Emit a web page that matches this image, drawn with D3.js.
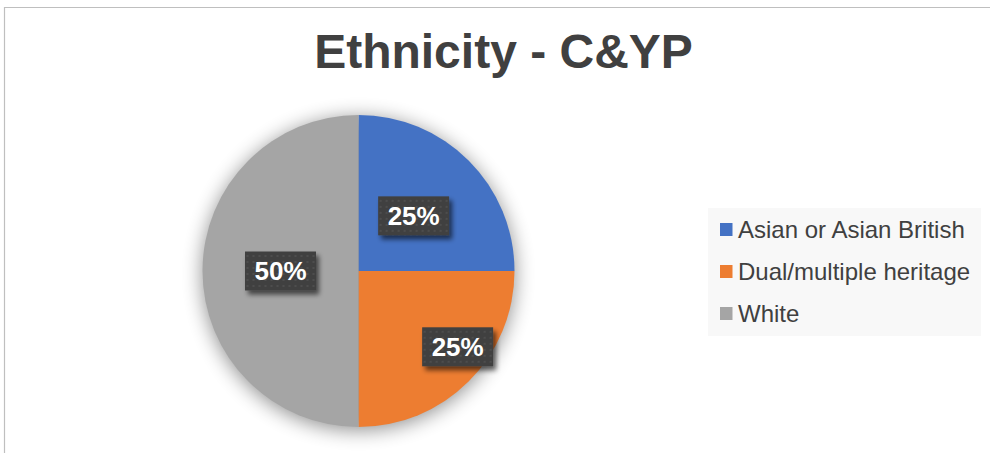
<!DOCTYPE html>
<html>
<head>
<meta charset="utf-8">
<script src="https://cdn.jsdelivr.net/npm/d3@7"></script>
<style>
  html, body { margin: 0; padding: 0; background: #fff; }
  svg { display: block; font-family: Arial, "Liberation Sans", sans-serif; }
</style>
</head>
<body>
<div id="chart"></div>
<script>
// chart data
var categories = ['Asian or Asian British', 'Dual/multiple heritage', 'White'];
var shares = [0.25, 0.25, 0.50];
var colors = ['#4472C4', '#ED7D31', '#A5A5A5'];
var title = 'Ethnicity - C&YP';

// label placement (fraction of radius, angle in degrees from 12 o'clock)
var labelRadius = [0.5, 0.8, 0.5];
var labelAngle = [45, 127.4, 270];

var width = 990, height = 453;
var cx = 358.5, cy = 271, radius = 156;

var svg = d3.select('#chart').append('svg')
  .attr('width', width)
  .attr('height', height);

var defs = svg.append('defs');

var pieShadow = defs.append('filter').attr('id', 'pieShadow')
  .attr('x', '-30%').attr('y', '-30%').attr('width', '160%').attr('height', '160%');
pieShadow.append('feGaussianBlur').attr('in', 'SourceAlpha').attr('stdDeviation', 10);
pieShadow.append('feOffset').attr('dy', 3).attr('result', 'blur');
pieShadow.append('feComponentTransfer').append('feFuncA').attr('type', 'linear').attr('slope', 0.45);

var boxShadow = defs.append('filter').attr('id', 'boxShadow')
  .attr('x', '-30%').attr('y', '-30%').attr('width', '170%').attr('height', '180%');
boxShadow.append('feGaussianBlur').attr('in', 'SourceAlpha').attr('stdDeviation', 2.5);
boxShadow.append('feOffset').attr('dx', 3).attr('dy', 4).attr('result', 'off');
boxShadow.append('feComponentTransfer').attr('result', 'shadow')
  .append('feFuncA').attr('type', 'linear').attr('slope', 0.6);
var merge = boxShadow.append('feMerge');
merge.append('feMergeNode').attr('in', 'shadow');
merge.append('feMergeNode').attr('in', 'SourceGraphic');

var dots = defs.append('pattern').attr('id', 'dots')
  .attr('patternUnits', 'userSpaceOnUse')
  .attr('width', 6).attr('height', 6);
dots.append('rect').attr('width', 6).attr('height', 6).attr('fill', '#404040');
dots.append('rect').attr('x', 2).attr('y', 2).attr('width', 2).attr('height', 2).attr('fill', '#4d4d4d');

// chart frame
svg.append('path')
  .attr('d', 'M4.5,' + height + 'V7.5H' + width)
  .attr('fill', 'none')
  .attr('stroke', '#bfbfbf')
  .attr('stroke-width', 1.2);

svg.append('text')
  .attr('x', 503.5)
  .attr('y', 68)
  .attr('text-anchor', 'middle')
  .style('font-size', '48px')
  .style('font-weight', 'bold')
  .style('fill', '#404040')
  .text(title);

var pie = d3.pie().sort(null).value(function (d) { return d; });
var arc = d3.arc().innerRadius(0).outerRadius(radius);
var arcs = pie(shares);

var g = svg.append('g').attr('transform', 'translate(' + cx + ',' + cy + ')');

g.append('circle').attr('r', radius).attr('fill', '#000').attr('filter', 'url(#pieShadow)');

g.selectAll('path.slice')
  .data(arcs)
  .enter().append('path')
  .attr('class', 'slice')
  .attr('d', arc)
  .attr('fill', function (d, i) { return colors[i]; });

var fmt = d3.format('.0%');
var boxW = 71, boxH = 39;

var labels = g.selectAll('g.lbl')
  .data(arcs)
  .enter().append('g')
  .attr('class', 'lbl')
  .attr('transform', function (d, i) {
    var a = labelAngle[i] * Math.PI / 180;
    var r = labelRadius[i] * radius;
    return 'translate(' + (r * Math.sin(a)) + ',' + (-r * Math.cos(a)) + ')';
  });

labels.append('rect')
  .attr('x', -boxW / 2).attr('y', -boxH / 2)
  .attr('width', boxW).attr('height', boxH)
  .attr('fill', 'url(#dots)')
  .attr('filter', 'url(#boxShadow)');

labels.append('text')
  .attr('text-anchor', 'middle')
  .attr('dy', '0.36em')
  .style('font-size', '26px')
  .style('font-weight', 'bold')
  .style('fill', '#fff')
  .text(function (d) { return fmt(d.data); });

// legend
var legend = svg.append('g').attr('transform', 'translate(708,208)');
legend.append('rect')
  .attr('width', 273).attr('height', 128)
  .attr('fill', '#f8f8f8');

var rows = legend.selectAll('g.row')
  .data(categories)
  .enter().append('g')
  .attr('class', 'row')
  .attr('transform', function (d, i) { return 'translate(0,' + (21.5 + i * 42) + ')'; });

rows.append('rect')
  .attr('x', 12).attr('y', -6.5)
  .attr('width', 12.5).attr('height', 13)
  .attr('fill', function (d, i) { return colors[i]; });

rows.append('text')
  .attr('x', 30)
  .attr('y', 8)
  .style('font-size', '24px')
  .style('fill', '#404040')
  .text(function (d) { return d; });
</script>
</body>
</html>
